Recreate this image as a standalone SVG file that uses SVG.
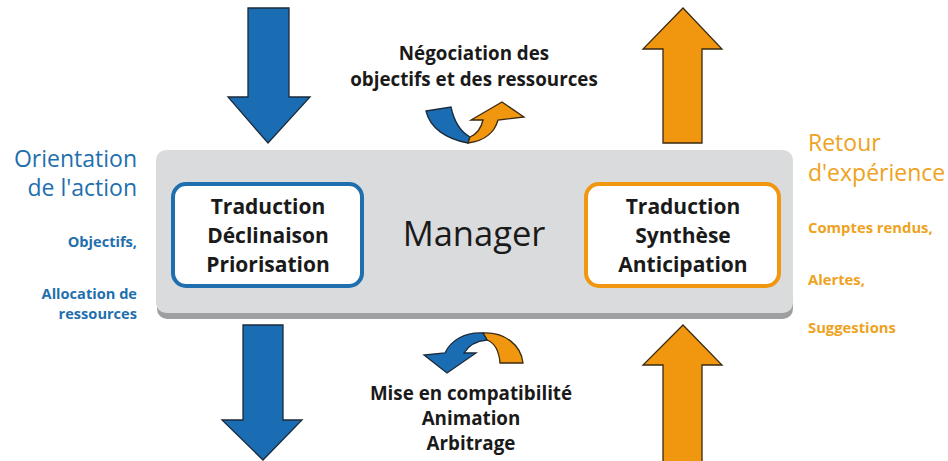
<svg xmlns="http://www.w3.org/2000/svg" width="948" height="461" viewBox="0 0 948 461">
<defs>
<style>
.t{font-family:"Open Sans","Noto Sans","Liberation Sans",sans-serif;}
.b{font-weight:bold;}
.dark{fill:#1a1a1a;}
.blue{fill:#1f6fae;}
.orange{fill:#eea21e;}
.ab{fill:#1a6db3;stroke:#1c2a3a;stroke-width:1.3;stroke-linejoin:miter;}
.ao{fill:#f0960f;stroke:#3a2a10;stroke-width:1.3;stroke-linejoin:miter;}
</style>
</defs>
<rect width="948" height="461" fill="#ffffff"/>

<g id="manager">
<rect x="157" y="153" width="636" height="166" rx="10" fill="#9e9fa1"/>
<rect x="156" y="150" width="637" height="163" rx="10" fill="#dadbdd"/>
<text class="t dark" x="474" y="246" font-size="34.5" text-anchor="middle">Manager</text>
</g>

<g id="box-left">
<rect x="173" y="184" width="189" height="102" rx="13" fill="#ffffff" stroke="#1f6fae" stroke-width="4"/>
<text class="t b dark" font-size="21" text-anchor="middle"><tspan x="268" y="214">Traduction</tspan><tspan x="268" y="243">Déclinaison</tspan><tspan x="268" y="272">Priorisation</tspan></text>
</g>

<g id="box-right">
<rect x="586" y="184" width="193" height="102" rx="13" fill="#ffffff" stroke="#f0960f" stroke-width="4"/>
<text class="t b dark" font-size="21" text-anchor="middle"><tspan x="683" y="214">Traduction</tspan><tspan x="683" y="243">Synthèse</tspan><tspan x="683" y="272">Anticipation</tspan></text>
</g>

<g id="label-left">
<text class="t blue" font-size="23" text-anchor="end"><tspan x="137" y="167">Orientation</tspan><tspan x="137" y="196">de l'action</tspan></text>
<text class="t b blue" font-size="14.6" text-anchor="end"><tspan x="137" y="247">Objectifs,</tspan><tspan x="137" y="299">Allocation de</tspan><tspan x="137" y="319">ressources</tspan></text>
</g>

<g id="label-right">
<text class="t orange" font-size="23"><tspan x="808" y="151">Retour</tspan><tspan x="808" y="181">d'expérience</tspan></text>
<text class="t b orange" font-size="14.8"><tspan x="808" y="233">Comptes rendus,</tspan><tspan x="808" y="285">Alertes,</tspan><tspan x="808" y="333">Suggestions</tspan></text>
</g>

<g id="label-top">
<text class="t b dark" font-size="18.8" text-anchor="middle"><tspan x="474" y="60">Négociation des</tspan><tspan x="474" y="86">objectifs et des ressources</tspan></text>
</g>

<g id="label-bottom">
<text class="t b dark" font-size="18.8" text-anchor="middle"><tspan x="471" y="400">Mise en compatibilité</tspan><tspan x="471" y="425">Animation</tspan><tspan x="471" y="450">Arbitrage</tspan></text>
</g>

<g id="connectors">
<path class="ab" d="M248,8 L289,8 L289,97 L310,97 L268,143 L228,97 L248,97 Z"/>
<path class="ab" d="M243,325 L283,325 L283,420 L302,420 L263,460 L222,420 L243,420 Z"/>
<path class="ao" d="M683,8 L722,49 L702,49 L702,143 L663,143 L663,49 L643,49 Z"/>
<path class="ao" d="M683,325 L722,365 L702,365 L702,462 L663,462 L663,365 L643,365 Z"/>
<path class="ab" d="M426,111 L451,107 C454,121 461,132 470,137 L468,143 C446,139 430,128 426,111 Z"/>
<path class="ao" d="M468,143 C486,141 495,131 498,120 L524,117 L502,102 L471,120 L483,120 C481,129 477,134 470,137 Z"/>
<path class="ao" d="M483,333 C505,332 521,345 523,363 L500,363 C499,351 495,343 487,340 Z"/>
<path class="ab" d="M483,333 C465,332 451,340 445,353 L424,355 L447,373 L476,353 L464,353 C468,346 476,341 487,340 Z"/>
</g>
</svg>
